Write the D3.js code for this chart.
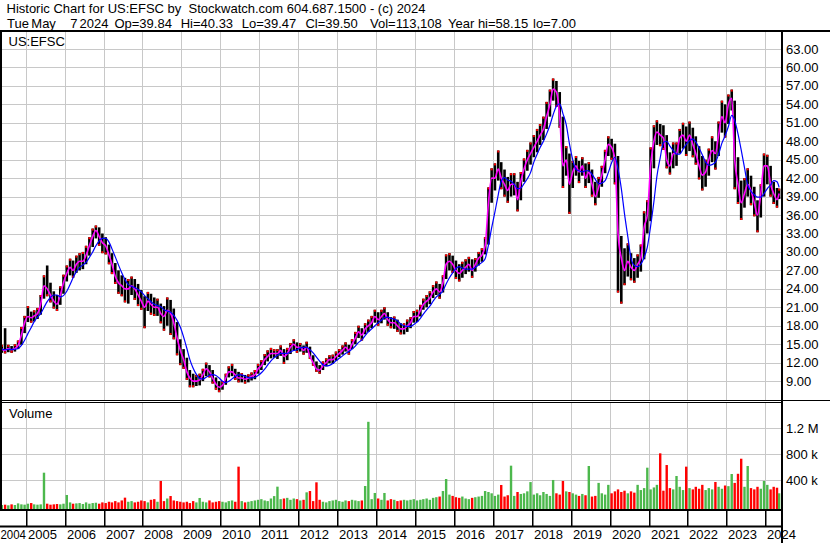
<!DOCTYPE html>
<html>
<head>
<meta charset="utf-8">
<script src="https://cdn.jsdelivr.net/npm/d3@7"></script>
<style>
  body { margin: 0; background: #fff; }
  svg { display: block; }
  text { font-family: "Liberation Sans", Arial, sans-serif; font-size: 13px; fill: #000; white-space: pre; }
</style>
</head>
<body>
<script>
// Monthly values, May 2004 .. May 2024
const closes = [
  14.2, 14.0, 14.3, 14.1, 14.3, 14.8, 16.5, 18.5,
  19.5, 19.3, 19.6, 20.0, 21.5, 24.5, 24.0, 23.0, 22.0, 21.5, 23.0, 25.0,
  26.5, 27.5, 27.0, 28.0, 28.5, 28.5, 29.5, 31.0, 32.5, 33.5, 32.5, 31.5,
  31.0, 29.5, 28.0, 26.0, 25.0, 24.5, 24.0, 24.0, 24.5, 24.0, 23.0, 22.0,
  21.0, 22.0, 21.5, 21.0, 21.0, 20.0, 19.5, 20.5, 20.0, 18.5, 16.0, 14.0,
  12.5, 10.5, 9.5, 9.0, 9.0, 9.2, 10.0, 11.0, 10.5, 9.5, 8.5, 8.0,
  8.3, 9.5, 10.5, 10.5, 10.0, 9.5, 9.5, 9.3, 9.5, 9.8, 10.0, 11.0,
  11.5, 12.5, 13.0, 13.5, 13.5, 13.5, 14.0, 13.0, 13.5, 14.5, 15.0, 14.5,
  14.5, 14.0, 14.5, 13.0, 12.0, 11.0, 10.8, 11.5, 12.0, 12.5, 12.5, 13.0,
  13.5, 14.0, 14.5, 14.0, 15.0, 16.0, 17.0, 16.5, 17.5, 18.0, 18.5, 19.5,
  19.0, 19.5, 20.0, 19.0, 18.5, 18.5, 18.0, 17.5, 17.5, 18.0, 18.5, 19.5,
  19.5, 20.5, 21.5, 22.0, 22.5, 23.5, 24.0, 23.5, 25.0, 28.0, 28.5, 28.0,
  27.0, 26.5, 27.0, 27.5, 28.0, 27.0, 28.0, 29.0, 29.5, 31.0, 38.0, 42.0,
  42.0, 43.5, 42.0, 41.0, 40.0, 41.0, 41.0, 38.5, 41.5, 43.5, 45.0, 46.0,
  47.0, 48.0, 49.0, 50.0, 52.0, 54.0, 56.5, 56.0, 52.0, 44.0, 45.0, 41.0,
  43.0, 44.0, 43.0, 44.0, 42.0, 43.0, 41.0, 39.0, 40.5, 42.5, 45.0, 47.5,
  47.0, 45.0, 33.0, 29.0, 27.0, 28.5, 27.5, 27.0, 28.0, 29.0, 34.0, 36.0,
  44.0, 48.0, 49.5, 49.0, 48.5, 45.0, 44.0, 46.0, 46.0, 48.5, 49.0, 48.0,
  49.0, 47.5, 46.0, 44.0, 42.5, 43.0, 45.0, 46.5, 46.0, 49.0, 52.0, 51.0,
  54.0, 55.0, 45.0, 41.0, 38.0, 39.5, 41.0, 40.0, 38.0, 36.0, 39.5, 44.0,
  44.0, 41.0, 39.5, 38.5, 39.5
];
const highs = [
  14.9, 17.6, 14.9, 14.7, 15.0, 15.6, 17.8, 19.6,
  21.2, 20.3, 20.5, 20.9, 23.0, 26.2, 27.8, 25.0, 23.6, 23.0, 24.4, 26.3,
  27.8, 28.9, 28.6, 29.4, 29.8, 30.0, 31.0, 32.4, 33.8, 34.3, 34.0, 33.0,
  32.4, 31.2, 29.8, 28.2, 27.0, 26.2, 25.8, 25.6, 26.0, 25.6, 24.8, 23.8,
  22.8, 23.5, 23.2, 22.6, 22.4, 21.6, 21.2, 22.6, 22.2, 20.8, 18.6, 15.8,
  14.2, 12.8, 10.8, 10.2, 10.0, 10.2, 11.0, 12.0, 11.6, 10.8, 9.6, 9.0,
  9.0, 10.2, 11.4, 11.8, 11.0, 10.5, 10.3, 10.0, 10.1, 10.4, 10.8, 11.8,
  12.4, 13.4, 14.0, 14.4, 14.2, 14.2, 14.8, 14.2, 14.4, 15.2, 15.8, 15.3,
  15.2, 14.8, 15.4, 14.6, 13.2, 12.2, 11.6, 12.2, 12.7, 13.2, 13.3, 13.8,
  14.2, 14.8, 15.3, 14.9, 15.8, 17.0, 18.0, 17.6, 18.4, 19.0, 19.6, 20.6,
  20.2, 20.6, 21.0, 20.2, 19.4, 19.5, 19.0, 18.4, 18.4, 19.0, 19.4, 20.4,
  20.6, 21.4, 22.4, 23.0, 23.6, 24.6, 25.2, 24.8, 26.2, 29.6, 29.8, 29.4,
  28.6, 28.0, 28.4, 28.8, 29.2, 28.8, 29.0, 30.0, 30.6, 32.4, 40.5, 43.6,
  44.4, 46.5, 44.6, 43.4, 42.2, 42.8, 42.8, 41.4, 43.0, 45.2, 46.6, 47.8,
  49.0, 50.0, 50.8, 52.0, 54.4, 56.4, 58.2, 57.8, 56.0, 52.0, 47.2, 46.0,
  44.8, 45.6, 44.8, 45.4, 44.4, 44.6, 43.4, 41.4, 42.2, 44.0, 46.6, 48.8,
  48.4, 47.6, 45.6, 32.6, 30.6, 31.4, 29.8, 29.0, 29.6, 31.2, 36.6, 38.4,
  47.0, 50.6, 51.4, 50.8, 50.6, 49.0, 46.2, 47.8, 47.8, 50.0, 51.0, 50.4,
  51.2, 50.2, 48.8, 47.2, 45.6, 45.0, 46.8, 48.8, 48.0, 51.2, 54.6, 54.0,
  55.6, 56.4, 54.6, 45.4, 41.6, 42.0, 43.6, 42.4, 40.6, 38.4, 41.0, 46.0,
  45.8, 44.0, 41.4, 40.4, 40.3
];
const lows = [
  13.6, 13.5, 13.7, 13.6, 13.8, 14.2, 14.9, 16.8,
  18.6, 18.5, 18.7, 19.1, 19.8, 22.4, 22.8, 21.8, 20.8, 20.4, 21.4, 23.2,
  25.2, 26.2, 25.8, 26.6, 27.0, 27.2, 28.0, 29.4, 30.8, 32.2, 31.0, 29.8,
  29.6, 28.0, 26.4, 24.8, 23.2, 22.8, 21.8, 21.6, 23.0, 22.2, 21.2, 20.6,
  17.6, 20.4, 19.8, 19.6, 19.6, 18.4, 17.2, 18.0, 16.5, 15.8, 13.2, 11.6,
  11.0, 9.2, 8.0, 8.0, 8.2, 8.3, 9.0, 9.8, 9.6, 8.6, 7.6, 7.2,
  7.6, 8.4, 9.6, 9.8, 9.2, 8.8, 8.8, 8.6, 8.8, 9.1, 9.3, 10.2,
  10.8, 11.6, 12.2, 12.7, 12.8, 12.6, 13.1, 11.8, 12.4, 13.4, 14.0, 13.6,
  13.8, 13.3, 13.6, 12.6, 11.5, 10.5, 10.2, 10.8, 11.4, 11.9, 11.8, 12.3,
  12.9, 13.3, 13.8, 13.3, 14.2, 15.0, 16.0, 15.6, 16.6, 17.0, 17.6, 18.5,
  18.0, 18.4, 19.0, 18.0, 17.6, 17.5, 17.0, 16.6, 16.6, 17.0, 17.6, 18.5,
  18.6, 19.5, 20.6, 21.0, 21.5, 22.5, 23.0, 22.4, 23.4, 25.6, 27.0, 26.6,
  25.6, 25.2, 25.8, 26.4, 26.8, 25.8, 26.8, 27.8, 28.4, 29.6, 31.2, 38.0,
  40.0, 41.6, 40.2, 39.0, 38.0, 39.0, 39.2, 36.6, 38.4, 41.4, 43.2, 44.2,
  45.4, 46.2, 47.4, 48.2, 50.0, 52.0, 54.6, 53.6, 50.2, 40.4, 42.4, 36.2,
  40.4, 42.4, 41.2, 42.4, 40.4, 41.2, 39.0, 37.6, 38.8, 40.6, 42.8, 45.6,
  45.0, 41.0, 23.4, 21.6, 24.6, 26.0, 25.4, 25.0, 25.8, 26.8, 28.8, 33.0,
  35.0, 43.6, 47.4, 47.2, 46.6, 43.6, 42.6, 43.6, 44.0, 46.0, 46.8, 45.6,
  46.4, 45.4, 44.2, 41.8, 40.0, 40.6, 42.4, 44.6, 43.4, 45.6, 49.4, 48.6,
  50.8, 53.0, 40.2, 37.8, 35.2, 37.2, 39.0, 37.6, 35.8, 33.2, 35.6, 39.0,
  41.0, 39.0, 37.8, 37.2, 38.6
];
// volume, thousands of shares
const volumesK = [
  20, 25, 15, 30, 20, 45, 30, 25,
  40, 50, 30, 25, 30, 517, 40, 25, 30, 35, 30, 40,
  174, 60, 40, 45, 50, 35, 60, 40, 50, 55, 40, 60,
  50, 70, 60, 80, 60, 90, 133, 70, 80, 60, 70, 90,
  80, 60, 100, 110, 70, 390, 80, 120, 158, 90, 80, 70,
  60, 70, 50, 80, 60, 128, 70, 60, 90, 60, 70, 80,
  70, 60, 80, 90, 70, 610, 80, 60, 70, 80, 90, 100,
  110, 90, 80, 120, 157, 302, 110, 120, 130, 100, 120, 110,
  90, 100, 215, 235, 80, 369, 100, 70, 60, 80, 90, 100,
  80, 70, 90, 80, 100, 90, 80, 90, 312, 1300, 110, 205,
  120, 100, 205, 90, 110, 100, 80, 90, 100, 90, 100, 110,
  90, 100, 110, 120, 100, 130, 140, 150, 235, 420, 180, 160,
  140, 130, 150, 120, 110, 130, 140, 150, 160, 235, 220, 200,
  160, 180, 328, 150, 170, 625, 160, 220, 190, 200, 230, 373,
  180, 200, 170, 220, 190, 160, 405, 200, 180, 390, 230, 220,
  200, 180, 160, 190, 170, 620, 150, 160, 360, 200, 180, 330,
  200, 230, 260, 220, 240, 200, 230, 210, 330, 250, 280, 594,
  260, 290, 330, 815, 240, 635, 280, 260, 466, 300, 250, 610,
  280, 260, 300, 270, 330, 250, 280, 260, 374, 300, 270, 320,
  310, 497, 360, 500, 732, 300, 620, 280, 260, 300, 270, 390,
  330, 260, 300, 286, 200
];

const priceTicks = [63, 60, 57, 54, 51, 48, 45, 42, 39, 36, 33, 30, 27, 24, 21, 18, 15, 12, 9];
const priceGrid = [66, 63, 60, 57, 54, 51, 48, 45, 42, 39, 36, 33, 30, 27, 24, 21, 18, 15, 12, 9, 6];
const volumeTicks = [400000, 800000, 1200000];
const volumeTickLabels = ["400 k", "800 k", "1.2 M"];
const years = [2005, 2006, 2007, 2008, 2009, 2010, 2011, 2012, 2013, 2014,
               2015, 2016, 2017, 2018, 2019, 2020, 2021, 2022, 2023, 2024];
const firstYearLabel = "2004";

const headerLine1 = "Historic Chart for US:EFSC by  Stockwatch.com 604.687.1500 - (c) 2024";
// second header line, one entry per field with its left position
const headerFields = ["Tue", "May", "7", "2024", "Op=39.84", "Hi=40.33", "Lo=39.47", "Cl=39.50",
                      "Vol=113,108", "Year hi=58.15", "lo=7.00"];
const headerFieldX = [7, 31.3, 70.2, 79.5, 114.4, 180.7, 241.7, 305.4, 370, 448, 533];

const n = closes.length;
if (highs.length !== n || lows.length !== n || volumesK.length !== n) {
  throw new Error("length mismatch " + [n, highs.length, lows.length, volumesK.length].join(","));
}

// month dates
const lastDay = new Date(Date.UTC(2024, 4, 6));
const months = d3.utcMonth.range(new Date(Date.UTC(2004, 4, 1)), new Date(Date.UTC(2024, 5, 1)));
const rows = months.map((m, i) => {
  let mid = d3.utcDay.offset(m, 15);
  if (mid > lastDay) mid = lastDay;
  return { date: mid, close: closes[i], high: highs[i], low: lows[i], vol: volumesK[i] * 1000,
           up: i === 0 ? true : closes[i] >= closes[i - 1] };
});
// moving average of the closes (5 months)
const ma = rows.map((d, i) => {
  const s = rows.slice(Math.max(0, i - 4), i + 1);
  return { date: d.date, v: d3.mean(s, r => r.close) };
});

const W = 830, H = 543;
const plotRight = 781;

const svg = d3.select("body").append("svg")
  .attr("width", W)
  .attr("height", H);

const x = d3.scaleUtc()
  .domain([new Date(Date.UTC(2005, 0, 1)), new Date(Date.UTC(2024, 0, 1))])
  .range([26.3, 765.7]);
const y = d3.scaleLinear().domain([9, 63]).range([381.1, 49]);
const yv = d3.scaleLinear().domain([0, 1200000]).range([506.3, 428.3]);

const defs = svg.append("defs");
defs.append("clipPath").attr("id", "clipPrice")
  .append("rect").attr("x", 2).attr("y", 32).attr("width", plotRight - 2).attr("height", 368);
defs.append("clipPath").attr("id", "clipVol")
  .append("rect").attr("x", 2).attr("y", 403).attr("width", plotRight - 2).attr("height", 106);

const gridColor = "#c8c8c8";
const yearX = yr => Math.floor(x(new Date(Date.UTC(yr, 0, 1)))) + 0.5;

// price grid
const grid = svg.append("g").attr("stroke", gridColor).attr("stroke-width", 1);
grid.selectAll(".hgrid")
  .data(priceGrid)
  .enter()
  .append("line")
  .attr("x1", 0).attr("x2", plotRight)
  .attr("y1", d => Math.round(y(d)) + 0.5)
  .attr("y2", d => Math.round(y(d)) + 0.5);
grid.selectAll(".vgrid")
  .data(years)
  .enter()
  .append("line")
  .attr("x1", yearX).attr("x2", yearX)
  .attr("y1", 32).attr("y2", 400);

// volume grid
grid.selectAll(".vhgrid")
  .data(volumeTicks)
  .enter()
  .append("line")
  .attr("x1", 0).attr("x2", plotRight)
  .attr("y1", d => Math.round(yv(d)) + 0.5)
  .attr("y2", d => Math.round(yv(d)) + 0.5);
grid.selectAll(".vvgrid")
  .data(years)
  .enter()
  .append("line")
  .attr("x1", yearX).attr("x2", yearX)
  .attr("y1", 403).attr("y2", 509);

// price bars
const pg = svg.append("g").attr("clip-path", "url(#clipPrice)");
pg.selectAll(".bar")
  .data(rows)
  .enter()
  .append("rect")
  .attr("x", d => x(d.date) - 1.3)
  .attr("width", 2.6)
  .attr("y", d => y(d.high))
  .attr("height", d => y(d.low) - y(d.high))
  .attr("fill", "#000");
pg.selectAll(".tick")
  .data(rows)
  .enter()
  .append("rect")
  .attr("x", d => x(d.date) - 1)
  .attr("width", 2)
  .attr("y", d => (d.up ? y(d.high) : y(d.low) - 2))
  .attr("height", 2)
  .attr("fill", "#ff0000");

pg.append("path")
  .datum(rows)
  .attr("fill", "none")
  .attr("stroke", "#ff00ff")
  .attr("stroke-width", 1.6)
  .attr("d", d3.line().curve(d3.curveMonotoneX).x(d => x(d.date)).y(d => y(d.close)));
pg.append("path")
  .datum(ma)
  .attr("fill", "none")
  .attr("stroke", "#0000ff")
  .attr("stroke-width", 1.2)
  .attr("d", d3.line().curve(d3.curveMonotoneX).x(d => x(d.date)).y(d => y(d.v)));

// volume bars
const vg = svg.append("g").attr("clip-path", "url(#clipVol)");
vg.selectAll(".vbar")
  .data(rows)
  .enter()
  .append("rect")
  .attr("x", d => x(d.date) - 1.2)
  .attr("width", 2.4)
  .attr("y", d => yv(d.vol))
  .attr("height", d => 509 - yv(d.vol))
  .attr("fill", d => (d.up ? "#4cb84c" : "#ff0000"));

// frame
const frame = svg.append("g").attr("fill", "#000");
frame.append("rect").attr("x", 0).attr("y", 30).attr("width", W).attr("height", 2);
frame.append("rect").attr("x", 0).attr("y", 32).attr("width", 2).attr("height", 479);
frame.append("rect").attr("x", 0).attr("y", 400).attr("width", W).attr("height", 1);
frame.append("rect").attr("x", 0).attr("y", 402).attr("width", plotRight).attr("height", 1);
frame.append("rect").attr("x", 0).attr("y", 509).attr("width", plotRight).attr("height", 2);
frame.append("rect").attr("x", 0).attr("y", 525.5).attr("width", plotRight).attr("height", 2);
frame.selectAll(".ytick")
  .data(years)
  .enter()
  .append("rect")
  .attr("x", d => yearX(d) - 0.5)
  .attr("width", 1.5)
  .attr("y", 511).attr("height", 15);

// texts
svg.append("text").attr("x", 6.5).attr("y", 13).text(headerLine1);
svg.append("text").attr("y", 27.5)
  .selectAll("tspan")
  .data(headerFields)
  .enter()
  .append("tspan")
  .attr("x", (d, i) => headerFieldX[i])
  .text(d => d);
svg.append("text").attr("x", 8.5).attr("y", 46).text("US:EFSC");
svg.append("text").attr("x", 9).attr("y", 417.5).text("Volume");

svg.selectAll(".plabel")
  .data(priceTicks)
  .enter()
  .append("text")
  .attr("x", 786)
  .attr("y", d => y(d) + 4.5)
  .text(d => d3.format(".2f")(d));
svg.selectAll(".vlabel")
  .data(volumeTicks)
  .enter()
  .append("text")
  .attr("x", 786)
  .attr("y", d => yv(d) + 4.5)
  .text((d, i) => volumeTickLabels[i]);

svg.selectAll(".xlabel")
  .data(years)
  .enter()
  .append("text")
  .attr("x", d => yearX(d) + 1.5)
  .attr("y", 538.5)
  .text(d => String(d));
svg.append("text")
  .attr("x", 0.5)
  .attr("y", 538.5)
  .attr("textLength", 25.5)
  .attr("lengthAdjust", "spacingAndGlyphs")
  .text(firstYearLabel);

// right divider drawn over the labels
svg.append("rect").attr("x", plotRight).attr("y", 30).attr("width", 2).attr("height", H - 30).attr("fill", "#000");
</script>
</body>
</html>
